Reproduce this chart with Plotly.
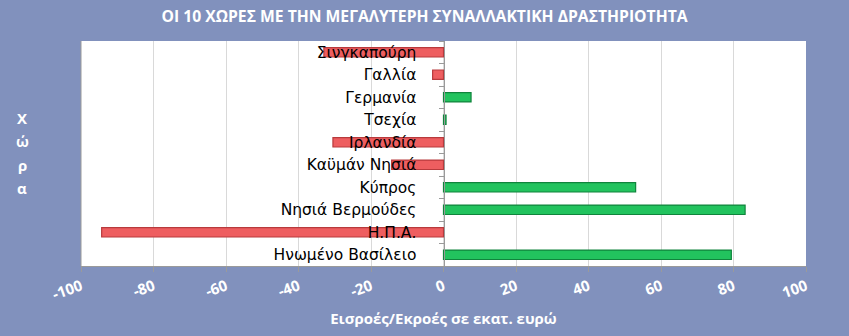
import plotly.graph_objects as go

countries = ["Σινγκαπούρη", "Γαλλία", "Γερμανία", "Τσεχία", "Ιρλανδία",
             "Καϋμάν Νησιά", "Κύπρος", "Νησιά Βερμούδες", "Η.Π.Α.", "Ηνωμένο Βασίλειο"]
values = [-33, -3, 7.6, 0.7, -30.5, -14.3, 53, 83.2, -94.3, 79.4]
x_ticks = [-100, -80, -60, -40, -20, 0, 20, 40, 60, 80, 100]

title_text = "ΟΙ 10 ΧΩΡΕΣ ΜΕ ΤΗΝ ΜΕΓΑΛΥΤΕΡΗ ΣΥΝΑΛΛΑΚΤΙΚΗ ΔΡΑΣΤΗΡΙΟΤΗΤΑ"
x_title = "Εισροές/Εκροές σε εκατ. ευρώ"
y_title = "Χώρα"

bg = "#8191BD"
fill = ["#EE5E60" if v < 0 else "#22C35E" for v in values]
edge = ["#B83A3C" if v < 0 else "#10843C" for v in values]

W, H = 849, 336
L, R, T, B = 81, 43, 41, 70
plot_w, plot_h = W - L - R, H - T - B

fig = go.Figure(go.Bar(
    x=values, y=countries, orientation="h",
    marker=dict(color=fill, line=dict(color=edge, width=1.2)),
    width=0.42,
))

fig.update_layout(
    width=W, height=H,
    margin=dict(l=L, r=R, t=T, b=B),
    paper_bgcolor=bg, plot_bgcolor="white",
    showlegend=False,
    title=dict(text=f"<b>{title_text}</b>", x=0.5, xanchor="center", y=1 - 17/H, yanchor="middle",
               font=dict(family="Open Sans", size=15.7, color="white")),
    font=dict(family="DejaVu Sans"),
)

fig.update_xaxes(
    range=[-100, 100], tickvals=x_ticks, ticktext=[str(t) for t in x_ticks],
    tickangle=-20, showgrid=True, gridcolor="#D9D9D9", gridwidth=1,
    zeroline=False, showline=True, linecolor="#9A9A9A", linewidth=1,
    ticks="outside", ticklen=5, tickcolor="#9A9A9A",
    tickfont=dict(family="Open Sans", size=15, color="white", weight="bold"),
    title=dict(text=f"<b>{x_title}</b>", font=dict(family="Open Sans", size=15, color="white"), standoff=10),
)

fig.update_yaxes(
    categoryorder="array", categoryarray=countries[::-1],
    anchor="free", position=0.5,
    showline=True, linecolor="#9A9A9A", linewidth=1,
    ticks="outside", ticklen=5, tickcolor="#9A9A9A", tickson="boundaries",
    showgrid=False, zeroline=False,
    ticklabelstandoff=24,
    tickfont=dict(family="DejaVu Sans", size=15.5, color="black"),
)

fig.add_shape(type="line", xref="paper", yref="paper", x0=0, x1=0, y0=0, y1=1,
              line=dict(color="#9A9A9A", width=1))

# vertical stacked axis title, one letter per line
first_y, step = 118, 23.3
for i, ch in enumerate(y_title):
    fig.add_annotation(
        text=f"<b>{ch}</b>",
        xref="paper", yref="paper", x=(22 - L) / plot_w, y=(H - B - (first_y + i * step)) / plot_h,
        xanchor="center", yanchor="middle", showarrow=False,
        font=dict(family="Open Sans", size=15, color="white"),
    )

fig.write_html("out.html")
